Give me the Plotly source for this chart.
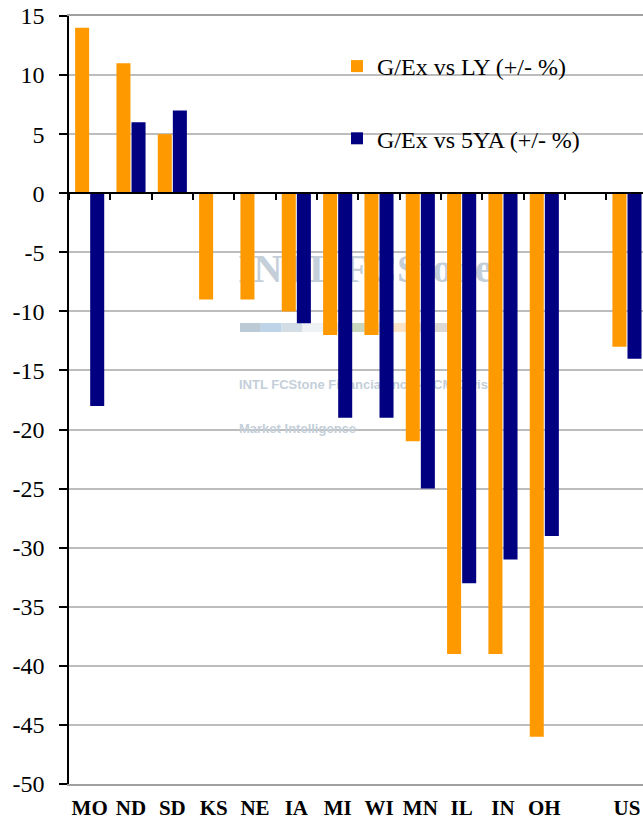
import plotly.graph_objects as go

# ---------------- data ----------------
states = ["MO", "ND", "SD", "KS", "NE", "IA", "MI", "WI", "MN", "IL", "IN", "OH", " ", "US"]
vs_ly = [14, 11, 5, -9, -9, -10, -12, -12, -21, -39, -39, -46, None, -13]
vs_5ya = [-18, 6, 7, None, None, -11, -19, -19, -25, -33, -31, -29, None, -14]
series_names = ["G/Ex vs LY (+/- %)", "G/Ex vs 5YA (+/- %)"]
y_ticks = list(range(-50, 16, 5))
y_tick_labels = [str(v) for v in y_ticks]

# watermark texts (decoration behind the bars)
wm_logo = "INTL FCStone"
wm_line2 = "INTL FCStone Financial Inc. \u2013 FCM Division"
wm_line3 = "Market Intelligence"
stripe_colors = ["#bccad6", "#bcd3e8", "#d3dde6", "#eef2f5", "#e6ebe3",
                 "#c9d6bd", "#ece5d3", "#fbe3c8", "#ebdfd2", "#ddd8d3"]

# ---------------- style ----------------
W, H = 643, 821
ML, MR, MT, MB = 69, 0, 16, 37
ORANGE = "#FF9900"
NAVY = "#000080"
SERIF = "Liberation Serif, Times New Roman, serif"
WM_COLOR = "#c4cfd9"

fig = go.Figure()

# watermark on the hidden base axes (pixel-like coordinates), drawn beneath the bars
fig.add_trace(go.Scatter(
    x=[238], y=[272], text=[wm_logo], mode="text", textposition="middle right",
    textfont=dict(family=SERIF, size=40, color=WM_COLOR, weight="bold"),
    xaxis="x", yaxis="y", showlegend=False, hoverinfo="skip"))
fig.add_trace(go.Scatter(
    x=[239, 239], y=[386, 430], text=[wm_line2, wm_line3], mode="text",
    textposition="middle right",
    textfont=dict(family="Liberation Sans, Arial, sans-serif", size=13, color=WM_COLOR, weight="bold"),
    xaxis="x", yaxis="y", showlegend=False, hoverinfo="skip"))

shapes = []
seg_w = 20.8
for i, c in enumerate(stripe_colors):
    x0 = 240 + i * seg_w
    shapes.append(dict(type="rect", xref="x", yref="y", x0=x0, x1=x0 + seg_w,
                       y0=323, y1=332, fillcolor=c, line=dict(width=0), layer="below"))

# bars
fig.add_trace(go.Bar(x=states, y=vs_ly, name=series_names[0], marker_color=ORANGE,
                     marker_line_width=0, xaxis="x2", yaxis="y2", legendgroup="a",
                     hoverinfo="skip"))
fig.add_trace(go.Bar(x=states, y=vs_5ya, name=series_names[1], marker_color=NAVY,
                     marker_line_width=0, xaxis="x2", yaxis="y2", legendgroup="b",
                     hoverinfo="skip"))
# helper trace for the category axis drawn at zero
fig.add_trace(go.Scatter(x=states, y=[None] * len(states), mode="markers",
                         xaxis="x3", yaxis="y2", showlegend=False, hoverinfo="skip"))

x_range = [-0.5, 13.388]

fig.update_layout(
    width=W, height=H,
    margin=dict(l=ML, r=MR, t=MT, b=MB, pad=0, autoexpand=False),
    paper_bgcolor="white", plot_bgcolor="white",
    barmode="group", bargap=0.27, bargroupgap=0.07,
    showlegend=True,
    legend=dict(x=(337 - ML) / (W - ML - MR), y=(H - MB - 44) / (H - MT - MB),
                xanchor="left", yanchor="top",
                font=dict(family=SERIF, size=24, color="black"),
                bgcolor="rgba(0,0,0,0)", tracegroupgap=38, traceorder="grouped"),
    xaxis=dict(range=[ML, W - MR], visible=False, fixedrange=True, automargin=False),
    yaxis=dict(range=[H - MB, MT], visible=False, fixedrange=True, automargin=False),
    xaxis2=dict(overlaying="x", anchor="y2", type="category", automargin=False,
                categoryorder="array", categoryarray=states, range=x_range,
                showgrid=False, zeroline=False,
                showline=True, linecolor="#a0a0a0", linewidth=2, mirror=True,
                ticks="outside", ticklen=4, tickcolor="rgba(0,0,0,0)",
                tickfont=dict(family=SERIF, size=21, color="black", weight="bold")),
    xaxis3=dict(overlaying="x", anchor="free", position=50 / 65, type="category",
                automargin=False,
                categoryorder="array", categoryarray=states, range=x_range,
                showgrid=False, zeroline=False, showticklabels=False,
                showline=True, linecolor="black", linewidth=1.5,
                ticks="outside", tickson="boundaries", ticklen=6, tickcolor="black",
                tickwidth=1.5, side="bottom"),
    yaxis2=dict(overlaying="y", anchor="x2", side="left", range=[-50, 15],
                automargin=False,
                tickmode="array", tickvals=y_ticks, ticktext=y_tick_labels,
                showgrid=True, gridcolor="#bdbdbd", gridwidth=1.5, zeroline=False,
                showline=True, linecolor="black", linewidth=1.5,
                ticks="outside", ticklen=8, tickcolor="black", tickwidth=1.5,
                ticklabelstandoff=10,
                tickfont=dict(family=SERIF, size=24, color="black")),
    shapes=shapes,
)

fig.write_html("out.html",
               config={"displayModeBar": False},
               post_script="document.body.style.margin='0';document.body.style.padding='0';")
